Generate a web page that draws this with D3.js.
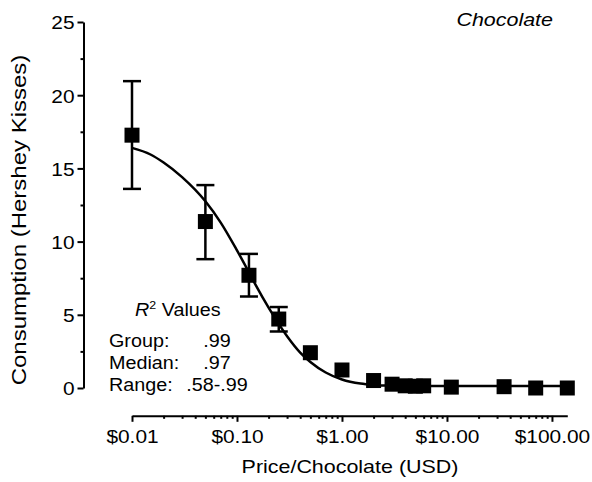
<!DOCTYPE html>
<html><head><meta charset="utf-8">
<script src="https://cdn.jsdelivr.net/npm/d3@7"></script>
<style>
body{margin:0;background:#fff}
svg{display:block}
text{font-family:"Liberation Sans",Arial,Helvetica,sans-serif;fill:#000}
</style>
</head><body>
<svg id="chart" width="592" height="482"></svg>
<script>
// ---- data ----
const prices      = [0.01, 0.05, 0.13, 0.25, 0.5, 1, 2, 3, 4, 5, 6, 11, 35, 70, 140];
const consumption = [17.27, 11.37, 7.7, 4.71, 2.41, 1.23, 0.51, 0.26, 0.15, 0.12, 0.15, 0.06, 0.09, 0, 0];
const errPrices   = [0.01, 0.05, 0.13, 0.25];
const errHigh     = [20.96, 13.86, 9.16, 5.53];
const errLow      = [13.6, 8.8, 6.25, 3.86];
const curvePrices = [0.01, 0.015, 0.02, 0.03, 0.05, 0.07, 0.1, 0.13, 0.15, 0.2, 0.3, 0.4, 0.5, 0.7, 1, 1.5, 2, 3, 5, 10, 140];
const curveValues = [16.4, 15.95, 15.4, 14.4, 12.75, 11.3, 9.4, 7.9, 7.06, 5.49, 3.54, 2.42, 1.78, 1.06, 0.58, 0.3, 0.21, 0.16, 0.14, 0.13, 0.13];
const yTicks      = [0, 5, 10, 15, 20, 25];
const yMinorTicks = [2.5, 7.5, 12.5, 17.5, 22.5];
const xTicks      = [0.01, 0.1, 1, 10, 100];
const xTickLabels = ["$0.01", "$0.10", "$1.00", "$10.00", "$100.00"];
const xMinorTicks = [0.02,0.03,0.04,0.05,0.06,0.07,0.08,0.09, 0.2,0.3,0.4,0.5,0.6,0.7,0.8,0.9, 2,3,4,5,6,7,8,9, 20,30,40,50,60,70,80,90];
const r2Labels    = ["Group:", "Median:", "Range:"];
const r2Values    = [".99", ".97", ".58-.99"];

// ---- layout ----
const SX = 1.16;
const svg = d3.select("#chart");
const x = d3.scaleLog().domain([0.01, 140]).range([132, 567.3]);
const y = d3.scaleLinear().domain([0, 25]).range([388, 22]);
const yAxisX = 83.5, xAxisY = 415.8;

function styleAxis(g){
  g.selectAll("path.domain").attr("stroke","#000").attr("stroke-width",2);
  g.selectAll(".tick line").attr("stroke","#000").attr("stroke-width",2);
}

// Y axis
const gy = svg.append("g").attr("transform",`translate(${yAxisX},0)`)
  .call(d3.axisLeft(y).tickValues(yTicks).tickSize(6).tickSizeOuter(0).tickFormat(d3.format("d")));
styleAxis(gy);
gy.selectAll(".tick text")
  .attr("x",null).attr("dy",null).attr("y",null)
  .attr("font-size",18).attr("text-anchor","end").attr("dominant-baseline","central")
  .attr("transform",`translate(-9,0.5) scale(${SX},1)`);
const gyMinor = svg.append("g").attr("transform",`translate(${yAxisX},0)`)
  .call(d3.axisLeft(y).tickValues(yMinorTicks).tickSize(3).tickSizeOuter(0).tickFormat(""));
styleAxis(gyMinor);
gyMinor.select("path.domain").remove();

// X axis
const gx = svg.append("g").attr("transform",`translate(0,${xAxisY})`)
  .call(d3.axisBottom(x).tickValues(xTicks).tickSize(6).tickSizeOuter(0).tickFormat((d,i)=>xTickLabels[i]));
styleAxis(gx);
gx.selectAll(".tick text")
  .attr("y",null).attr("dy",null)
  .attr("font-size",18).attr("text-anchor","middle")
  .attr("transform",`translate(0,27.5) scale(${SX},1)`);
const gxMinor = svg.append("g").attr("transform",`translate(0,${xAxisY})`)
  .call(d3.axisBottom(x).tickValues(xMinorTicks).tickSize(3).tickSizeOuter(0).tickFormat(""));
styleAxis(gxMinor);
gxMinor.select("path.domain").remove();

// Axis titles
svg.append("text").attr("font-size",18.5).attr("text-anchor","middle")
  .attr("transform",`translate(350,473) scale(${SX},1)`).text("Price/Chocolate (USD)");
svg.append("text").attr("font-size",20).attr("text-anchor","middle")
  .attr("transform",`translate(26,220) rotate(-90) scale(1.2,1)`).text("Consumption (Hershey Kisses)");

// Panel title
svg.append("text").attr("font-size",18.5).attr("font-style","italic").attr("text-anchor","end")
  .attr("transform",`translate(553,26) scale(${SX},1)`).text("Chocolate");

// Error bars
const errs = errPrices.map((p,i)=>({p, hi:errHigh[i], lo:errLow[i]}));
const eg = svg.append("g").attr("stroke","#000").attr("stroke-width",2.5);
eg.selectAll("line.v").data(errs).join("line").attr("class","v")
  .attr("x1",d=>x(d.p)).attr("x2",d=>x(d.p)).attr("y1",d=>y(d.hi)).attr("y2",d=>y(d.lo));
eg.selectAll("line.t").data(errs).join("line").attr("class","t")
  .attr("x1",d=>x(d.p)-9).attr("x2",d=>x(d.p)+9).attr("y1",d=>y(d.hi)).attr("y2",d=>y(d.hi));
eg.selectAll("line.b").data(errs).join("line").attr("class","b")
  .attr("x1",d=>x(d.p)-9).attr("x2",d=>x(d.p)+9).attr("y1",d=>y(d.lo)).attr("y2",d=>y(d.lo));

// Fitted curve
const curve = curvePrices.map((p,i)=>({p, c:curveValues[i]}));
svg.append("path").datum(curve)
  .attr("fill","none").attr("stroke","#000").attr("stroke-width",2.5)
  .attr("d", d3.line().x(d=>x(d.p)).y(d=>y(d.c)).curve(d3.curveMonotoneX));

// Data points
const pts = prices.map((p,i)=>({p, c:consumption[i]}));
const S = 15;
svg.append("g").selectAll("rect").data(pts).join("rect")
  .attr("x",d=>x(d.p)-S/2).attr("y",d=>y(d.c)-S/2).attr("width",S).attr("height",S).attr("fill","#000");

// R^2 block
const r2 = svg.append("g");
const rt = r2.append("text").attr("font-size",17.5).attr("transform",`translate(135,315.7) scale(1.13,1)`);
rt.append("tspan").attr("font-style","italic").text("R");
rt.append("tspan").attr("font-size",11).attr("dy",-7).text("2");
rt.append("tspan").attr("dy",7).text(" Values");
r2Labels.forEach((l,i)=>{
  r2.append("text").attr("font-size",17.5)
    .attr("transform",`translate(109,${346.7+i*22.3}) scale(1.13,1)`).text(l);
  r2.append("text").attr("font-size",17.5).attr("text-anchor","middle")
    .attr("transform",`translate(217,${346.7+i*22.3}) scale(1.13,1)`).text(r2Values[i]);
});
</script>
</body></html>
